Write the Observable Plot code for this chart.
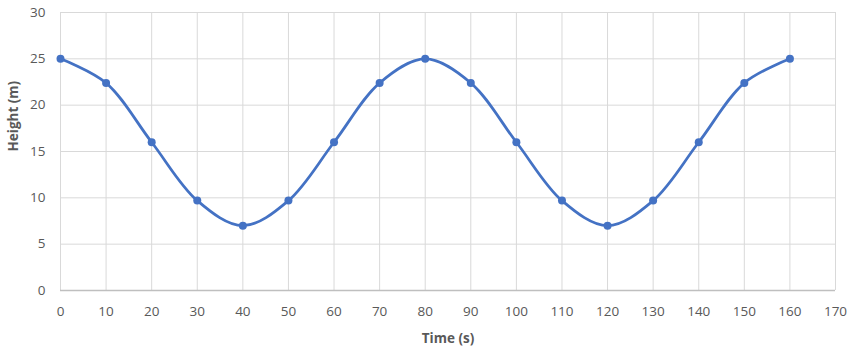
<!DOCTYPE html>
<html>
<head>
<meta charset="utf-8">
<script src="https://cdn.jsdelivr.net/npm/d3@7"></script>
<script src="https://cdn.jsdelivr.net/npm/@observablehq/plot@0.6"></script>
<style>
  html, body { margin: 0; padding: 0; background: #fff; }
  #chart svg { display: block; }
</style>
</head>
<body>
<div id="chart"></div>
<script>
const times = [0, 10, 20, 30, 40, 50, 60, 70, 80, 90, 100, 110, 120, 130, 140, 150, 160];
const heights = [25, 22.4, 16, 9.7, 7, 9.7, 16, 22.4, 25, 22.4, 16, 9.7, 7, 9.7, 16, 22.4, 25];
const xTicks = d3.range(0, 171, 10);
const yTicks = [0, 5, 10, 15, 20, 25, 30];
const xLabel = "Time (s)";
const yLabel = "Height (m)";

const data = times.map((t, i) => ({t, h: heights[i]}));

const chart = Plot.plot({
  width: 854,
  height: 352,
  marginLeft: 60,
  marginRight: 19,
  marginTop: 12,
  marginBottom: 62,
  style: {fontFamily: "'Open Sans', 'Liberation Sans', sans-serif", fontSize: "13px", color: "#595959", background: "#fff"},
  x: {domain: [0, 170], ticks: xTicks},
  y: {domain: [0, 30], ticks: yTicks},
  marks: [
    Plot.gridX(xTicks, {stroke: "#d9d9d9", strokeOpacity: 1, strokeWidth: 1}),
    Plot.gridY(yTicks, {stroke: "#d9d9d9", strokeOpacity: 1, strokeWidth: 1}),
    Plot.ruleY([0], {stroke: "#bfbfbf", strokeWidth: 1.5}),
    Plot.axisX(xTicks, {tickSize: 0, tickPadding: 16, fill: "#595959", fontSize: 13.5, label: null}),
    Plot.axisY(yTicks, {tickSize: 0, tickPadding: 15, fill: "#595959", fontSize: 13.5, label: null}),
    Plot.text([xLabel], {frameAnchor: "bottom", dy: 52, fontWeight: "bold", fontSize: 13.5, fill: "#595959"}),
    Plot.text([yLabel], {frameAnchor: "left", dx: -47, rotate: -90, fontWeight: "bold", fontSize: 13.5, fill: "#595959"}),
    Plot.line(data, {x: "t", y: "h", curve: "catmull-rom", stroke: "#4472C4", strokeWidth: 2.75}),
    Plot.dot(data, {x: "t", y: "h", r: 4, fill: "#4472C4", stroke: "none"})
  ]
});
document.getElementById("chart").appendChild(chart);
</script>
</body>
</html>
